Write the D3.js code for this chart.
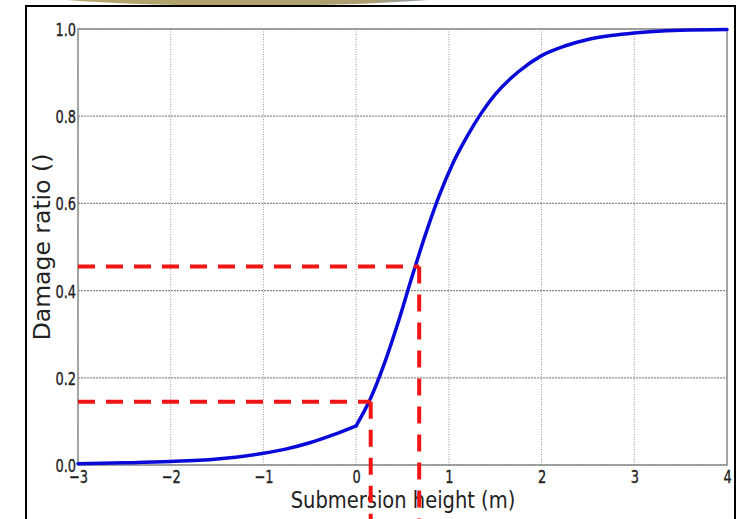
<!DOCTYPE html>
<html>
<head>
<meta charset="utf-8">
<script src="https://cdn.jsdelivr.net/npm/d3@7"></script>
<style>
  html, body { margin: 0; padding: 0; background: #fff; }
  svg { display: block; }
</style>
</head>
<body>
<svg id="chart" width="746" height="519"></svg>
<script>
// ---- data ----
const heights = [-3, -2.5, -2, -1.5, -1, -0.75, -0.5, -0.25, 0, 0.15, 0.3, 0.45, 0.6, 0.75, 0.9, 1.05, 1.2, 1.35, 1.5, 1.75, 2.0, 2.25, 2.5, 2.75, 3.0, 3.5, 4.0];
const damageRatio = [0.003, 0.005, 0.008, 0.014, 0.027, 0.037, 0.051, 0.069, 0.090, 0.150, 0.230, 0.325, 0.430, 0.530, 0.620, 0.695, 0.755, 0.807, 0.850, 0.902, 0.939, 0.961, 0.976, 0.985, 0.991, 0.997, 0.999];
const xTicks = [-3, -2, -1, 0, 1, 2, 3, 4];
const yTicks = [0.0, 0.2, 0.4, 0.6, 0.8, 1.0];
const markerHeights = [0.157, 0.68];
const markerRatios = [0.145, 0.455];
const xLabel = "Submersion height (m)";
const yLabel = "Damage ratio ()";

// ---- layout ----
const svg = d3.select("#chart");
const x = d3.scaleLinear().domain([-3, 4]).range([78, 727]);
const y = d3.scaleLinear().domain([0, 1]).range([465, 29]);

// decorative slide header arc
const defs = svg.append("defs");
const grad = defs.append("linearGradient").attr("id", "arcGrad")
  .attr("gradientUnits", "userSpaceOnUse").attr("x1", 73).attr("x2", 420).attr("y1", 0).attr("y2", 0);
grad.append("stop").attr("offset", "0%").attr("stop-color", "#b6a56c");
grad.append("stop").attr("offset", "85%").attr("stop-color", "#ac9e6f");
grad.append("stop").attr("offset", "100%").attr("stop-color", "#8e9fa4");
svg.append("ellipse").attr("cx", 247).attr("cy", -54).attr("rx", 416).attr("ry", 60)
  .attr("fill", "url(#arcGrad)");

// black frame
svg.append("rect").attr("x", 26).attr("y", 6).attr("width", 709).attr("height", 530)
  .attr("fill", "#fff").attr("stroke", "#000").attr("stroke-width", 2);

// grid
const g = svg.append("g");
g.selectAll("line.vgrid").data(xTicks).join("line")
  .attr("class", "vgrid")
  .attr("x1", d => x(d)).attr("x2", d => x(d))
  .attr("y1", y(0)).attr("y2", y(1))
  .attr("stroke", "#9a9a9a").attr("stroke-width", 1).attr("stroke-dasharray", "1,1.5");
g.selectAll("line.hgrid").data(yTicks).join("line")
  .attr("class", "hgrid")
  .attr("x1", x(-3)).attr("x2", x(4))
  .attr("y1", d => y(d)).attr("y2", d => y(d))
  .attr("stroke", "#8a8a8a").attr("stroke-width", 1.2).attr("stroke-dasharray", "2,1");

// plot border
g.append("rect").attr("x", x(-3)).attr("y", y(1))
  .attr("width", x(4) - x(-3)).attr("height", y(0) - y(1))
  .attr("fill", "none").attr("stroke", "#8c8c8c").attr("stroke-width", 1.5);

// axes (tick labels)
const xAxis = d3.axisBottom(x).tickValues(xTicks).tickSize(0).tickPadding(0)
  .tickFormat(d => d3.format("d")(d).replace("-", "\u2212"));
const xg = svg.append("g").attr("transform", `translate(0,${y(0)})`).call(xAxis);
xg.select(".domain").remove();
xg.selectAll(".tick text")
  .attr("y", 0).attr("dy", null)
  .attr("transform", "translate(0,17.5) scale(0.72,1)")
  .attr("font-family", "DejaVu Sans").attr("font-size", 18).attr("fill", "#222")
  .attr("stroke", "#222").attr("stroke-width", 0.35);

const yAxis = d3.axisLeft(y).tickValues(yTicks).tickSize(0).tickPadding(0)
  .tickFormat(d3.format(".1f"));
const yg = svg.append("g").attr("transform", `translate(${x(-3) - 2},0)`).call(yAxis);
yg.select(".domain").remove();
yg.selectAll(".tick text")
  .attr("x", 0).attr("dy", null).attr("y", 0)
  .attr("transform", "translate(0,6.5) scale(0.72,1)")
  .attr("font-family", "DejaVu Sans").attr("font-size", 18).attr("fill", "#222")
  .attr("stroke", "#222").attr("stroke-width", 0.35);

// axis labels
svg.append("text").attr("transform", "translate(403,508) scale(0.83,1)").attr("text-anchor", "middle")
  .attr("font-family", "DejaVu Sans").attr("font-size", 23.5).attr("fill", "#222")
  .text(xLabel);
svg.append("text").attr("transform", "translate(50,247) rotate(-90)").attr("text-anchor", "middle")
  .attr("font-family", "DejaVu Sans").attr("font-size", 23.5).attr("fill", "#222")
  .text(yLabel);

// curve: drawn as two monotone pieces joined at the kink (height 0)
const pts = heights.map((h, i) => [h, damageRatio[i]]);
const line = d3.line().x(d => x(d[0])).y(d => y(d[1])).curve(d3.curveMonotoneX);
const pieces = [pts.filter(d => d[0] <= 0), pts.filter(d => d[0] >= 0)];
svg.selectAll("path.curve").data(pieces).join("path")
  .attr("class", "curve")
  .attr("d", line).attr("fill", "none")
  .attr("stroke", "#0a0ad8").attr("stroke-width", 3.5)
  .attr("stroke-linejoin", "round").attr("stroke-linecap", "round");

// red dashed markers
const markers = markerHeights.map((h, i) => ({h, r: markerRatios[i]}));
svg.selectAll("line.mh").data(markers).join("line")
  .attr("x1", x(-3)).attr("x2", d => x(d.h))
  .attr("y1", d => y(d.r)).attr("y2", d => y(d.r))
  .attr("stroke", "#f01414").attr("stroke-width", 4).attr("stroke-dasharray", "17,11");
svg.selectAll("line.mv").data(markers).join("line")
  .attr("x1", d => x(d.h)).attr("x2", d => x(d.h))
  .attr("y1", d => y(d.r)).attr("y2", 519)
  .attr("stroke", "#f01414").attr("stroke-width", 4).attr("stroke-dasharray", "17,11");
</script>
</body>
</html>
